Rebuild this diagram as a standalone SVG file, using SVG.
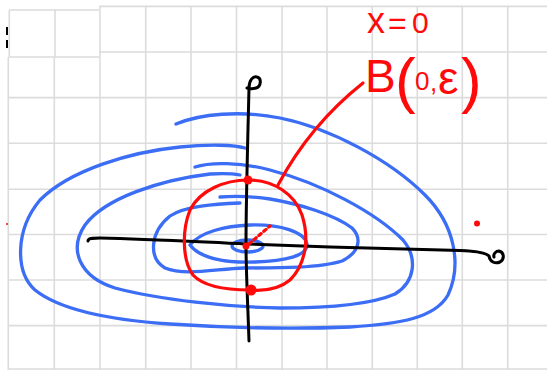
<svg xmlns="http://www.w3.org/2000/svg" width="547" height="370" viewBox="0 0 547 370">
<style>
.g{stroke:#dcdcdc;stroke-width:1.6;fill:none}
.bl{stroke:#3b6ef5;stroke-width:3.3;fill:none;stroke-linecap:round;stroke-linejoin:round}
.rd{stroke:#ff0a0a;stroke-width:3.2;fill:none;stroke-linecap:round;stroke-linejoin:round}
.ax{stroke:#000;stroke-width:3;fill:none;stroke-linecap:round;stroke-linejoin:round}
.lbl{fill:#ff0a0a;font-family:"Liberation Sans",Arial,sans-serif}
</style>
<rect width="547" height="370" fill="#fff"/>
<g id="grid">
<path class="g" d="M8.3 57V370M54.3 57V370M100 6V370M145.7 6V370M191 6V370M236.5 6V370M282 6V370M327 6V370M372.3 6V370M417.3 6V370M462.3 6V370M507.7 6V370"/>
<path class="g" d="M9.3 10V57M55 10V57"/>
<path class="g" d="M99 6.4H547M99 52H547M9 10H99M9 57H99M8 97.6H547M8 143.3H547M8 189.2H547M8 234.5H547M8 280H547M8 325.6H547M8 369H547"/>
<path d="M7 27V35M7 40V48" stroke="#000" stroke-width="2"/>
</g>
<g id="level-sets">
<path class="bl" d="M176 124C200 114 240 110 280 118C330 128 390 160 425 195C455 225 462 265 448 295C435 318 400 324 350 327C300 329 230 328 170 324C110 320 60 310 35 290C15 272 15 230 40 200C70 170 130 152 180 147C210 144 235 145 245 148"/>
<path class="bl" d="M195 167C210 162 240 162 270 170C320 183 375 212 403 240C418 258 415 282 395 294C370 305 320 308 280 308C230 307 160 300 115 288C80 277 68 250 85 225C105 198 160 180 210 174C225 173 235 174 240 175"/>
<path class="bl" d="M220 197C232 196 250 196 270 199C300 204 335 215 352 228C362 238 360 252 342 261C320 268 280 268 244 268C215 269 185 276 165 268C148 258 150 232 170 216C185 206 215 204 240 203"/>
<path class="bl" d="M190 245C200 232 225 226 250 225C280 224 305 232 307 244C308 256 285 261 255 262C225 263 200 258 190 245"/>
<ellipse class="bl" cx="247.5" cy="246" rx="15.5" ry="6"/>
</g>
<g id="axes">
<path class="ax" d="M249 341C248 310 246 270 246 244C246 200 248 130 249 88C249 80 253 76 257 77C262 78 261 87 256 88C253 89 250 89 247 88"/>
<path class="ax" d="M88 241C88 238 92 238 100 238C150 239 200 242 246 244L330 247L460 250.5C475 251 485 252 489 256C490 262 495 264 500 262C505 259 504 252 499 251C496 251 493 254 494 257"/>
</g>
<g id="ball">
<path class="rd" d="M248 180C275 180 295 195 302 215C310 240 305 265 290 280C278 290 262 291 250 290C230 290 205 288 193 275C182 260 182 230 190 210C200 190 225 180 248 180Z"/>
<path class="rd" d="M249 244L270 226" stroke-dasharray="3 3.5" stroke-linecap="butt"/>
<path class="rd" d="M278 185Q310 125 363 83"/>
<circle cx="248" cy="180" r="4.5" fill="#ff0a0a"/>
<circle cx="251" cy="290" r="5.5" fill="#ff0a0a"/>
<circle cx="246" cy="246" r="3.5" fill="#ff0a0a"/>
<circle cx="477" cy="223.5" r="3" fill="#ff0a0a"/>
<circle cx="7" cy="224" r="1" fill="#ff0a0a"/>
</g>
<g id="labels">
<text class="lbl"><tspan x="367" y="33" font-size="36">x</tspan><tspan x="388" y="34" font-size="32">=</tspan><tspan x="412" y="33" font-size="30">0</tspan></text>
<text class="lbl"><tspan x="365" y="92" font-size="46">B</tspan><tspan x="395" y="101" font-size="62">(</tspan><tspan x="415" y="90" font-size="26">0</tspan><tspan x="430" y="91" font-size="26">,</tspan><tspan x="438" y="94" font-size="46">ε</tspan><tspan x="461" y="101" font-size="62">)</tspan></text>
</g>
</svg>
